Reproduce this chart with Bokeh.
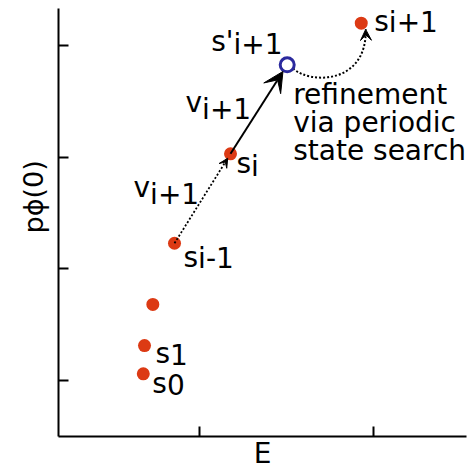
import numpy as np
from bokeh.plotting import figure
from bokeh.models import Range1d, FixedTicker, Arrow, VeeHead, ColumnDataSource, CustomJSTickFormatter, Title
from bokeh.embed import file_html
from bokeh.resources import INLINE
from bokeh.core.properties import value

# ---------------- data ----------------
# continuation points s0, s1, s2, ..., s_{i-1}, s_i, s_{i+1}
point_E = [0.674, 0.681, 0.729, 0.854, 1.177, 1.931]
point_p = [1.060, 1.313, 1.681, 2.229, 3.030, 4.200]
# predicted (trial) point s'_{i+1}
trial_E = [1.504]
trial_p = [3.827]
x_ticks = [1, 2]
y_ticks = [1, 2, 3, 4]
x_label = "E"
y_label = "p\u03d5(0)"
label_base = ["s", "s", "s", "s", "v", "v", "s'", "s"]
label_sub = ["0", "1", "i-1", "i", "i+1", "i+1", "i+1", "i+1"]
note_lines = ["refinement", "via periodic", "state search"]

# ---------------- style / layout ----------------
FONT = value("DejaVu Sans")
FS = "28px"
RED = "#dc3a14"
BLUE = "#2b2a9e"
X0, X1 = 0.185, 2.538
Y0, Y1 = 0.4985, 4.331

p = figure(width=472, height=472, output_backend="svg", toolbar_location=None,
           x_range=Range1d(X0, X1), y_range=Range1d(Y0, Y1),
           min_border_left=58, min_border_right=6, min_border_top=8, min_border_bottom=36)
p.outline_line_color = None
p.xgrid.visible = False
p.ygrid.visible = False
p.background_fill_color = "white"

for ax, ticks in ((p.xaxis[0], x_ticks), (p.yaxis[0], y_ticks)):
    ax.ticker = FixedTicker(ticks=ticks)
    ax.formatter = CustomJSTickFormatter(code="return ''")
    ax.major_label_text_font_size = "0px"
    ax.major_label_standoff = 0
    ax.major_tick_in = 10
    ax.major_tick_out = 0
    ax.minor_tick_line_color = None
    ax.axis_line_width = 2
    ax.major_tick_line_width = 2
    ax.axis_line_color = "black"
    ax.major_tick_line_color = "black"
    ax.axis_label_text_font = "DejaVu Sans"
    ax.axis_label_text_font_size = FS
    ax.axis_label_text_font_style = "normal"
    ax.axis_label_text_color = "black"
p.xaxis.axis_label = x_label
p.xaxis.axis_label_standoff = 0

# y label: vertical title left of the frame, placed above centre as in the original
p.add_layout(Title(text=y_label, align="left", offset=203, standoff=20,
                   text_font="DejaVu Sans", text_font_size="27px", text_font_style="normal",
                   text_color="black"), "left")

# ---------------- arrows ----------------
xa, ya = point_E[3], point_p[3]
xb, yb = point_E[4], point_p[4]
p.add_layout(Arrow(x_start=xa, y_start=ya,
                   x_end=xa + 0.95 * (xb - xa), y_end=ya + 0.95 * (yb - ya),
                   line_dash="2 2", line_width=1.8, line_color="black",
                   end=VeeHead(size=9, fill_color="black", line_color="black", line_width=1)))

xc, yc = trial_E[0], trial_p[0]
p.add_layout(Arrow(x_start=xb, y_start=yb,
                   x_end=xb + 0.925 * (xc - xb), y_end=yb + 0.925 * (yc - yb),
                   line_width=2, line_color="black",
                   end=VeeHead(size=20, fill_color="black", line_color="black", line_width=1)))

# curved refinement path s'_{i+1} -> s_{i+1}
xd, yd = point_E[5], point_p[5]
dx, dy = xd - xc, yd - yc
x0, y0 = xc + 0.08 * dx, yc - 0.09 * dy
cx0, cy0 = xc + 0.31 * dx, yc - 0.47 * dy
cx1, cy1 = xc + 1.08 * dx, yc - 0.47 * dy
x1, y1 = xc + 1.06 * dx, yd - 0.15 * dy
p.bezier(x0=[x0], y0=[y0], x1=[x1], y1=[y1], cx0=[cx0], cy0=[cy0], cx1=[cx1], cy1=[cy1],
         line_color="black", line_width=2, line_dash="2 2")
p.add_layout(Arrow(x_start=x1 - 0.2 * (x1 - cx1), y_start=y1 - 0.2 * (y1 - cy1),
                   x_end=x1, y_end=y1, line_alpha=0, line_width=0,
                   end=VeeHead(size=11, fill_color="black", line_color="black", line_width=1)))

# ---------------- points ----------------
p.scatter(point_E, point_p, size=13, fill_color=RED, line_color=None)
p.scatter(trial_E, trial_p, size=14, fill_color=None, line_color=BLUE, line_width=3)

# ---------------- labels ----------------
anchors = [(point_E[0], point_p[0]), (point_E[1], point_p[1]), (point_E[3], point_p[3]),
           (point_E[4], point_p[4]), (point_E[3], point_p[3]), (point_E[4], point_p[4]),
           (trial_E[0], trial_p[0]), (point_E[5], point_p[5])]
offsets = [(9, 10), (11, 8), (9, 14), (6, 10), (-41, -56), (-45, -51), (-76, -23), (13, -2)]
sub_shift = [1, 1, 1, 3, 7, 7, 3, 1]
advance = {"s": 14.6, "v": 16.6, "s'": 22.3}

bx, by, bt, bdx, bdy = [], [], [], [], []
for (ax_, ay_), (ox, oy), base, sub, sh in zip(anchors, offsets, label_base, label_sub, sub_shift):
    bx += [ax_, ax_]
    by += [ay_, ay_]
    bt += [base, sub]
    bdx += [ox, ox + advance[base]]
    bdy += [oy, oy + sh]
src = ColumnDataSource(dict(x=bx, y=by, text=bt, dx=bdx, dy=bdy))
p.text(x="x", y="y", text="text", x_offset="dx", y_offset="dy", source=src,
       text_font=FONT, text_font_size=FS, text_color="black",
       text_align="left", text_baseline="alphabetic")

note_src = ColumnDataSource(dict(x=[trial_E[0]] * 3, y=[trial_p[0]] * 3, text=note_lines,
                                 dy=[30, 58, 86]))
p.text(x="x", y="y", text="text", x_offset=6, y_offset="dy", source=note_src,
       text_font=FONT, text_font_size=FS, text_color="black",
       text_align="left", text_baseline="alphabetic")

open("out.html", "w").write(file_html(p, INLINE))
